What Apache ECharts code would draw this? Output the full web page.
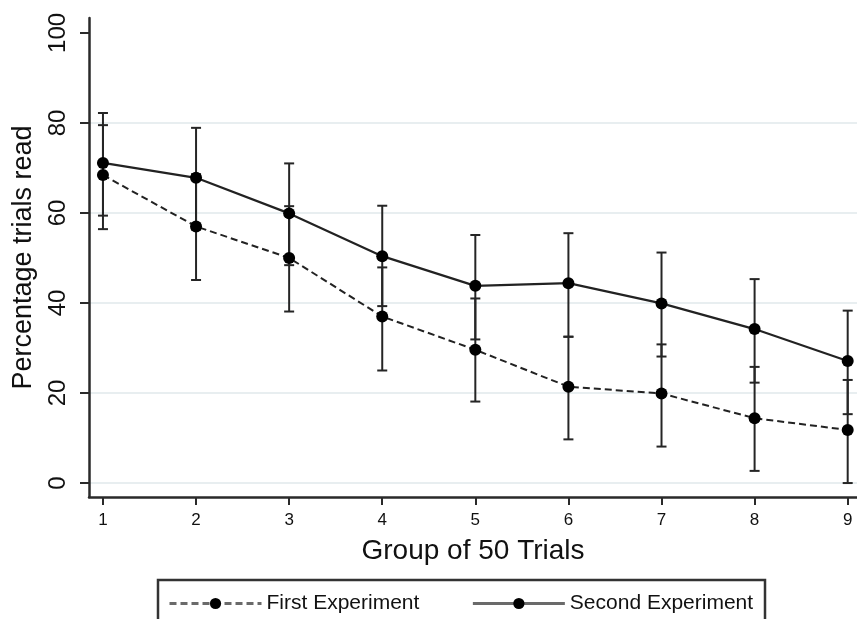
<!DOCTYPE html>
<html>
<head>
<meta charset="utf-8">
<script src="https://cdn.jsdelivr.net/npm/echarts@6/dist/echarts.min.js"></script>
<style>
html,body{margin:0;padding:0;background:#fff;}
#chart{width:857px;height:619px;}
</style>
</head>
<body>
<div id="chart"></div>
<script>
// ---- data ----
const groups = [1, 2, 3, 4, 5, 6, 7, 8, 9];
const firstMean  = [68.4, 57.0, 50.0, 37.0, 29.6, 21.4, 19.9, 14.4, 11.8];
const firstLow   = [56.4, 45.1, 38.1, 25.0, 18.1,  9.7,  8.1,  2.7,  0.0];
const firstHigh  = [79.5, 68.6, 61.5, 47.9, 41.0, 32.5, 30.8, 25.8, 22.9];
const secondMean = [71.1, 67.8, 59.9, 50.4, 43.8, 44.4, 39.9, 34.2, 27.1];
const secondLow  = [59.4, 56.3, 48.4, 39.3, 31.9, 32.5, 28.1, 22.3, 15.3];
const secondHigh = [82.2, 78.9, 71.0, 61.6, 55.1, 55.5, 51.2, 45.3, 38.3];
const yTicks = [0, 20, 40, 60, 80, 100];
const gridValues = [0, 20, 40, 60, 80];
const seriesNames = ['First Experiment', 'Second Experiment'];
const xTitle = 'Group of 50 Trials';
const yTitle = 'Percentage trials read';

const FONT = 'Liberation Sans, Arial, sans-serif';
const chart = echarts.init(document.getElementById('chart'), null, {renderer: 'canvas'});

function pairs(xs, ys) { return xs.map((x, i) => [x, ys[i]]); }
function bars(xs, lo, hi) { return xs.map((x, i) => [x, lo[i], hi[i]]); }

function errorBarRender(params, api) {
  const x = api.value(0);
  const p1 = api.coord([x, api.value(1)]);
  const p2 = api.coord([x, api.value(2)]);
  const cap = 5;
  const st = {stroke: '#252525', lineWidth: 2};
  return {
    type: 'group',
    children: [
      {type: 'line', shape: {x1: p1[0], y1: p1[1], x2: p2[0], y2: p2[1]}, style: st},
      {type: 'line', shape: {x1: p1[0] - cap, y1: p1[1], x2: p1[0] + cap, y2: p1[1]}, style: st},
      {type: 'line', shape: {x1: p2[0] - cap, y1: p2[1], x2: p2[0] + cap, y2: p2[1]}, style: st}
    ]
  };
}

function gridRender(params, api) {
  const cs = params.coordSys;
  const p = api.coord([1, api.value(0)]);
  return {
    type: 'line',
    shape: {x1: cs.x, y1: p[1], x2: cs.x + cs.width, y2: p[1]},
    style: {stroke: '#e8eef0', lineWidth: 2}
  };
}

const option = {
  animation: false,
  backgroundColor: '#ffffff',
  grid: {left: 89, right: 0, top: 18, bottom: 122},
  xAxis: {
    type: 'value',
    min: 0.85, max: 9.1,
    name: xTitle,
    nameLocation: 'middle',
    nameGap: 40,
    nameTextStyle: {fontFamily: FONT, fontSize: 28, color: '#111'},
    axisLine: {show: true, onZero: false, lineStyle: {color: '#2a2a2a', width: 2.5}},
    axisTick: {show: true, length: 8, lineStyle: {color: '#2a2a2a', width: 2}, customValues: groups},
    axisLabel: {fontFamily: FONT, fontSize: 17, color: '#111', margin: 15, customValues: groups},
    splitLine: {show: false}
  },
  yAxis: {
    type: 'value',
    min: -3.1, max: 103.3,
    name: yTitle,
    nameLocation: 'middle',
    nameGap: 52,
    nameTextStyle: {fontFamily: FONT, fontSize: 27, color: '#111'},
    axisLine: {show: true, onZero: false, lineStyle: {color: '#2a2a2a', width: 2.5}},
    axisTick: {show: true, length: 9, lineStyle: {color: '#2a2a2a', width: 2}, customValues: yTicks},
    axisLabel: {fontFamily: FONT, fontSize: 24, color: '#111', margin: 19, rotate: 90, customValues: yTicks},
    splitLine: {show: false}
  },
  legend: {
    data: seriesNames,
    left: 163, top: 588,
    itemWidth: 92, itemHeight: 14,
    itemGap: 52,
    lineStyle: {color: '#6a6a6a', width: 3},
    textStyle: {fontFamily: FONT, fontSize: 21, color: '#111'}
  },
  graphic: [{
    type: 'rect',
    shape: {x: 158, y: 580, width: 607, height: 60},
    style: {fill: 'none', stroke: '#333', lineWidth: 2.5},
    silent: true
  }],
  series: [
    {type: 'custom', name: 'grid', renderItem: gridRender, data: gridValues.map(v => [v]), z: 0, silent: true,
     encode: {y: 0}},
    {type: 'custom', name: 'ebFirst', renderItem: errorBarRender, data: bars(groups, firstLow, firstHigh), z: 2,
     encode: {x: 0, y: [1, 2]}},
    {type: 'custom', name: 'ebSecond', renderItem: errorBarRender, data: bars(groups, secondLow, secondHigh), z: 2,
     encode: {x: 0, y: [1, 2]}},
    {type: 'line', name: seriesNames[0], data: pairs(groups, firstMean), z: 3,
     symbol: 'circle', symbolSize: 12,
     itemStyle: {color: '#000'},
     lineStyle: {color: '#222', width: 2, type: [7, 4]}},
    {type: 'line', name: seriesNames[1], data: pairs(groups, secondMean), z: 3,
     symbol: 'circle', symbolSize: 12,
     itemStyle: {color: '#000'},
     lineStyle: {color: '#222', width: 2.2}}
  ]
};
chart.setOption(option);
</script>
</body>
</html>
